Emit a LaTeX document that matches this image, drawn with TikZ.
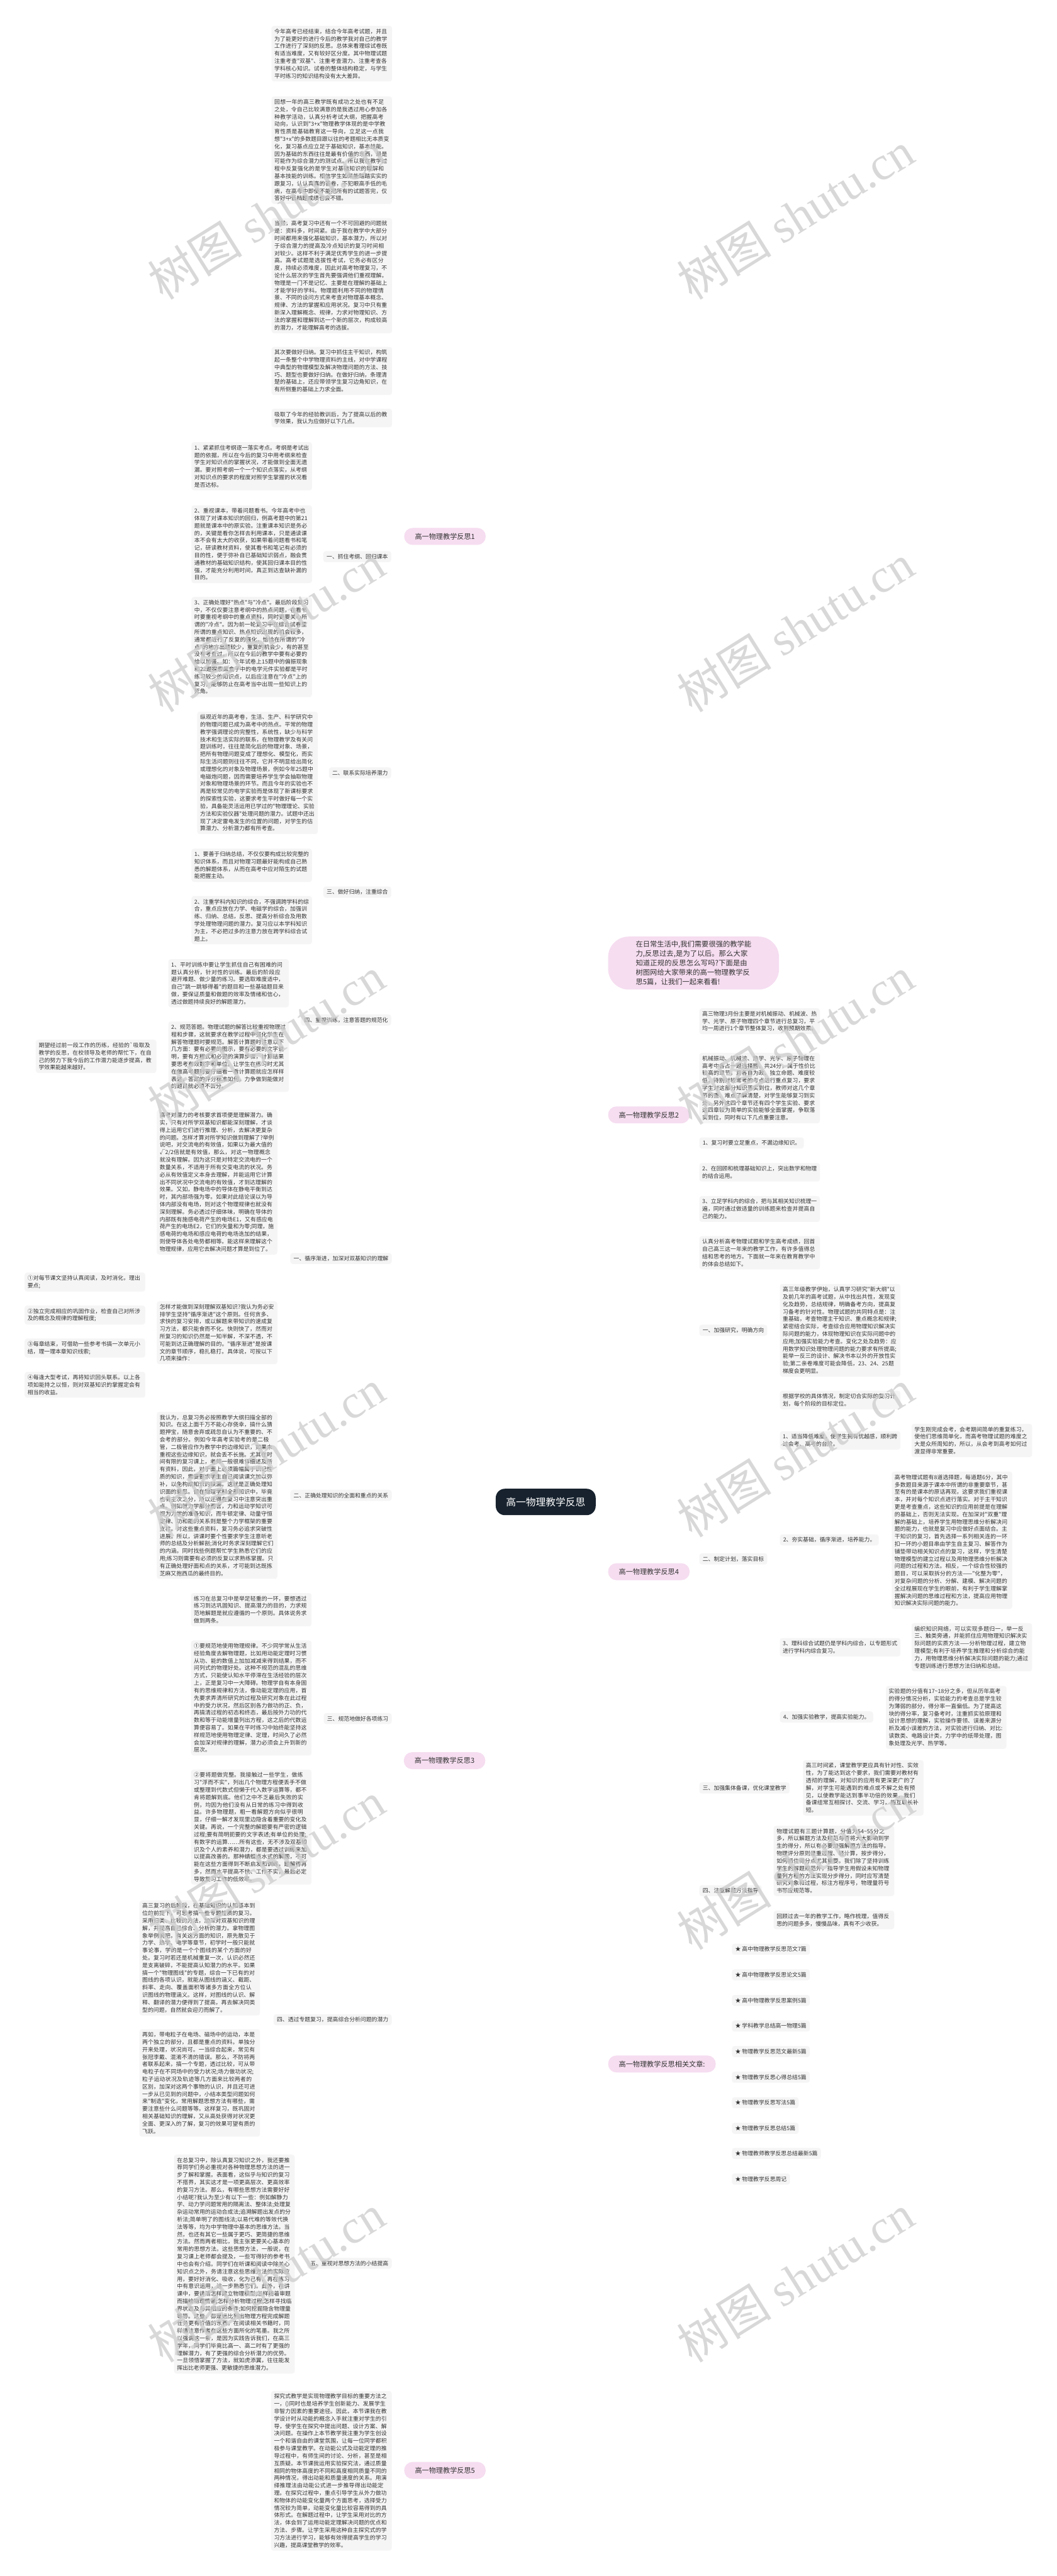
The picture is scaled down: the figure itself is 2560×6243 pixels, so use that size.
\documentclass[tikz,border=0pt]{standalone}
\usepackage{fontspec}
\newfontfamily\cjk{Noto Sans CJK SC}
\newfontfamily\wmfont{Liberation Serif}
\XeTeXlinebreaklocale "zh"
\XeTeXlinebreakskip = 0pt plus 1pt
\usetikzlibrary{backgrounds}
\definecolor{lineC}{HTML}{1E2934}
\definecolor{rootC}{HTML}{17222E}
\definecolor{pinkC}{HTML}{F6DDF0}
\definecolor{boxC}{HTML}{F5F5F5}
\definecolor{txtC}{HTML}{333333}
\begin{document}
\begin{tikzpicture}[x=1pt,y=-1pt,
  blk/.style={fill=boxC, rounded corners=6pt, text=txtC, font=\cjk\fontsize{13.5}{18}\selectfont, inner xsep=7pt, inner ysep=7pt, align=left, text width=278pt},
  lbl/.style={fill=boxC, rounded corners=6pt, text=txtC, font=\cjk\fontsize{13.5}{18}\selectfont, inner xsep=8pt, inner ysep=7pt},
  brn/.style={fill=pinkC, rounded corners=20pt, text=txtC, font=\cjk\fontsize{17}{22}\selectfont, inner xsep=26pt, inner ysep=11pt, minimum height=41pt},
  intro/.style={fill=pinkC, rounded corners=50pt, text=txtC, font=\cjk\fontsize{17.2}{23}\selectfont, inner xsep=67pt, inner ysep=10pt, align=left, text width=280pt},
  rootn/.style={fill=rootC, rounded corners=22pt, text=white, font=\cjk\fontsize{24}{28}\selectfont, inner xsep=25pt, minimum height=64pt},
  conn/.style={draw=lineC, line width=2pt, rounded corners=7pt},
  rconn/.style={draw=lineC, line width=3pt},
  wm/.style={text=black!20, opacity=0.75, rotate=32, font=\fontsize{115}{115}\selectfont}
]
\useasboundingbox (0,0) rectangle (2560,6243);
\fill[white] (0,0) rectangle (2560,6243);

% root
\node[rootn] (root) at (1322,3640) {高一物理教学反思};

% ===== branch 1 =====
\node[brn,anchor=west] (b1) at (979,1300) {高一物理教学反思1};
\node[blk,anchor=east] (a1) at (950,130) {今年高考已经结束，结合今年高考试题，并且为了能更好的进行今后的教学我对自己的教学工作进行了深刻的反思。总体来看理综试卷既有适当难度，又有较好区分度。其中物理试题注重考查"双基"、注重考查潜力、注重考查各学科核心知识。试卷的整体结构稳定，与学生平时练习的知识结构没有太大差异。};
\node[blk,anchor=east] (a2) at (950,364) {回想一年的高三教学既有成功之处也有不足之处，令自己比较满意的是我透过用心参加各种教学活动，认真分析考试大纲，把握高考动向，认识到"3+x"物理教学体现的是中学教育性质是基础教育这一导向，立足这一点我想"3+x"的多数题目跟以往的考题相比无本质变化，复习基点应立足于基础知识，基本技能。因为基础的东西往往是最有价值的东西，最是可能作为综合潜力的测试点。所以我在教学过程中反复强化的是学生对基础知识的理解和基本技能的训练。相信学生如果能踏踏实实的跟复习，认认真真的答卷，不犯眼高手低的毛病，在高考中即使不能把所有的试题答完，仅答好中低档题成绩也会不错。};
\node[blk,anchor=east] (a3) at (950,668) {当然，高考复习中还有一个不可回避的问题就是：资料多，时间紧。由于我在教学中大部分时间都用来强化基础知识，基本潜力，所以对于综合潜力的提高及冷点知识的复习时间相对较少。这样不利于满足优秀学生的进一步提高。高考试题是选拔性考试，它务必有区分度，持续必须难度，因此对高考物理复习，不论什么层次的学生首先要强调他们重视理解。物理是一门不是记忆、主要是在理解的基础上才能学好的学科。物理题利用不同的物理情景、不同的设问方式来考查对物理基本概念、规律、方法的掌握和应用状况。复习中只有重新深入理解概念、规律，力求对物理知识、方法的掌握和理解到达一个新的层次，构成较高的潜力，才能理解高考的选拔。};
\node[blk,anchor=east] (a4) at (950,899) {其次要做好归纳。复习中抓住主干知识，构筑起一条整个中学物理资料的主线，对中学课程中典型的物理模型及解决物理问题的方法、技巧、题型也要做好归纳。在做好归纳，条理清楚的基础上，还应带领学生复习边角知识，在有所侧重的基础上力求全面。};
\node[blk,anchor=east] (a5) at (950,1013) {吸取了今年的经验教训后，为了提高以后的教学效果，我认为应做好以下几点。};
\node[lbl,anchor=east] (a6) at (948,1349) {一、抓住考纲、回归课本};
\node[blk,anchor=east] (a61) at (756,1130) {1、紧紧抓住考纲逐一落实考点。考纲是考试出题的依据，所以在今后的复习中用考纲来检查学生对知识点的掌握状况，才能做到全面无遗漏。要对照考纲一个一个知识点落实，从考纲对知识点的要求的程度对照学生掌握的状况看是否达标。};
\node[blk,anchor=east] (a62) at (756,1319) {2、重视课本，带着问题看书。今年高考中也体现了对课本知识的回归，例高考题中的第21题就是课本中的原实验。注重课本知识是务必的，关键是看你怎样去利用课本，只是通读课本不会有太大的收获，如果带着问题看书和笔记，研读教材资料，使其看书和笔记有必须的目的性，便于弥补自已基础知识弱点，融会贯通教材的基础知识结构，使其回归课本目的性强，才能充分利用时间，真正到达查缺补漏的目的。};
\node[blk,anchor=east] (a63) at (756,1568) {3、正确处理好"热点"与"冷点"。最后阶段复习中，不仅仅要注意考纲中的热点问题，在看书时要重视考纲中的重点资料，同时更要关心所谓的"冷点"。因为前一轮复习中在综合试卷里所谓的重点知识、热点知识出现的机会较多，通常都进行了反复的强化，恰恰在所谓的"冷点"的地方出题较少，重复的机会少，有的甚至没有考查过，所以在今后的教学中要有必要的给以加强。如：今年试卷上15题中的偏振现象和22题探索黑盒子中的电学元件实验都是平时练习较少的知识点，以后应注意在"冷点"上的复习，能够防止在高考当中出现一些知识上的死角。};
\node[lbl,anchor=east] (a7) at (948,1873) {二、联系实际培养潜力};
\node[blk,anchor=east] (a71) at (770,1873) {纵观近年的高考卷，生活、生产、科学研究中的物理问题已成为高考中的热点。平常的物理教学强调理论的完整性，系统性，缺少与科学技术和生活实际的联系，在物理教学及有关问题训练时，往往是简化后的物理对象、场景，把所有物理问题变成了理想化、模型化，而实际生活问题则往往不同，它并不明显给出简化或理想化的对象及物理场景，例如今年25题中电磁炮问题，因而需要培养学生学会抽取物理对象和物理场景的环节。而且今年的实验也不再是较常见的电学实验而是体现了新课标要求的探索性实验，这要求考生平时做好每一个实验，具备能灵活运用已学过的"物理理论、实验方法和实验仪器"处理问题的潜力。试题中还出现了决定雷电发生的位置的问题，对学生的估算潜力、分析潜力都有所考查。};
\node[lbl,anchor=east] (a8) at (948,2162) {三、做好归纳，注重综合};
\node[blk,anchor=east] (a81) at (756,2097) {1、要善于归纳总结，不仅仅要构成比较完整的知识体系，而且对物理习题最好能构成自己熟悉的解题体系，从而在高考中应对陌生的试题能把握主动。};
\node[blk,anchor=east] (a82) at (756,2230) {2、注重学科内知识的综合，不强调跨学科的综合，重点应放在力学、电磁学的综合，加强训练、归纳、总结，反思、提高分析综合及用数学处理物理问题的潜力。复习应以本学科知识为主，不必把过多的注意力放在跨学科综合试题上。};
\node[lbl,anchor=east] (a9) at (948,2472) {四、重视训练，注意答题的规范化};
\node[blk,anchor=east] (a91) at (700,2383) {1、平时训练中要让学生抓住自己有困难的问题认真分析，针对性的训练。最后的阶段应避开难题、做少量的练习。要选取难度适中，自己"跳一跳够得着"的题目和一些基础题目来做，要保证质量和做题的效率及情绪和信心，透过做题持续良好的解题潜力。};
\node[blk,anchor=east] (a92) at (700,2561) {2、规范答题。物理试题的解答比较重视物理过程和步骤，这就要求在教学过程中强化学生在解答物理题时要规范。解答计算题时注意以下几方面：要有必要的图示，要有必要的文字说明，要有方程式和必要的演算步骤，计算结果要思考有效数字和单位。让学生在练习时尤其在做高考题时要仔细看一看计算题就应怎样样表述，答案的评分标准如何，力争做到能做对的题目就必须不丢分。};
\node[blk,anchor=east] (a921) at (379,2560) {期望经过前一段工作的历练，经验的`吸取及教学的反思，在校领导及老师的帮忙下，在自己的努力下我今后的工作潜力能逐步提高，教学效果能越来越好。};

% ===== intro + branch 2 =====
\node[intro,anchor=west] (intro) at (1473,2334) {在日常生活中,我们需要很强的教学能力,反思过去,是为了以后。那么大家知道正规的反思怎么写吗?下面是由树图网给大家带来的高一物理教学反思5篇，让我们一起来看看!};
\node[brn,anchor=west] (b2) at (1473,2702) {高一物理教学反思2};
\node[blk,anchor=west] (e1) at (1694,2475) {高三物理3月份主要是对机械振动、机械波、热学、光学、原子物理四个章节进行总复习，平均一周进行1个章节整体复习，收到预期效果。};
\node[blk,anchor=west] (e2) at (1694,2637) {机械振动、机械波、热学、光学、原子物理在高考中各占一题选择题，共24分，属于性价比较高的章节，且各自为政、独立命题、难度较低，特别对较常考的考点进行重点复习，要求学生对这部分知识落实到位，教师对这几个章节的重、难点了解清楚，对学生能够复习到实处，另外这四个章节还有四个学生实验、要求这四章较为简单的实验能够全面掌握，争取落实到位，同时有以下几点重要注意。};
\node[lbl,anchor=west] (e3) at (1694,2770) {1、复习时要立足重点，不漏边缘知识。};
\node[blk,anchor=west] (e4) at (1694,2841) {2、在回顾和梳理基础知识上，突出数学和物理的结合运用。};
\node[blk,anchor=west] (e5) at (1694,2930) {3、立足学科内的综合，把与其相关知识梳理一遍，同时通过做适量的训练题来检查并提高自己的能力。};

% ===== branch 4 =====
\node[brn,anchor=west] (b4) at (1473,3809) {高一物理教学反思4};
\node[blk,anchor=west] (f1) at (1694,3036) {认真分析高考物理试题和学生高考成绩，回首自己高三这一年来的教学工作，有许多值得总结和思考的地方。下面就一年来在教育教学中的体会总结如下。};
\node[lbl,anchor=west] (f2) at (1694,3224) {一、加强研究，明确方向};
\node[blk,anchor=west] (f21) at (1889,3224) {高三年级教学伊始，认真学习研究"新大纲"以及前几年的高考试题，从中找出共性，发现变化及趋势，总结规律，明确备考方向，提高复习备考的针对性。物理试题的共同特点是：注重基础，考查物理主干知识、重点概念和规律;紧密结合实际，考查综合应用物理知识解决实际问题的能力，体现物理知识在实际问题中的应用;加强实验能力考查。变化之处及趋势：应用数学知识处理物理问题的能力要求有所提高;能举一反三的设计、解决书本以外的开放性实验;第二亲卷难度可能会降低，23、24、25题梯度会更明显。};
\node[lbl,anchor=west] (f3) at (1694,3778) {二、制定计划，落实目标};
\node[blk,anchor=west] (f31) at (1889,3393) {根据学校的具体情况，制定切合实际的复习计划，每个阶段的目标定位。};
\node[blk,anchor=west] (f32) at (1889,3491) {1、适当降低难度，使学生拥有优越感，顺利跨过会考、高考的台阶。};
\node[blk,anchor=west] (f321) at (2208,3491) {学生刚完成会考，会考期间简单的重复练习，使他们思维简单化，而高考物理试题的难度之大是众所周知的，所以，从会考到高考如何过渡显得非常重要。};
\node[lbl,anchor=west] (f33) at (1889,3732) {2、夯实基础，循序渐进，培养能力。};
\node[blk,anchor=west] (f331) at (2160,3733) {高考物理试题有8道选择题，每道题6分，其中多数题目来源于课本中所谓的非重要章节，甚至有的是课本的原话再现，这要求我们重视课本，并对每个知识点进行落实。对于主干知识更是考查重点，这些知识的应用前提是在理解的基础上，否则无法实现。在加深对"双重"理解的基础上，培养学生用物理思维分析解决问题的能力，也就是复习中应做好点面结合。主干知识的复习，首先选择一系列相关连的一环扣一环的小题目串由学生自主复习、解答作为铺垫带动相关知识点的复习，这样，学生清楚物理模型的建立过程以及用物理思维分析解决问题的过程和方法。相反，一个综合性较强的题目，可以采取拆分的方法——"化整为零"，对复杂问题的分析、分解、建模、解决问题的全过程展现在学生的眼前，有利于学生理解掌握解决问题的思维过程和方法，提高应用物理知识解决实际问题的能力。};
\node[blk,anchor=west] (f34) at (1889,3992) {3、理科综合试题仍是学科内综合，以专题形式进行学科内综合复习。};
\node[blk,anchor=west] (f341) at (2208,3992) {编织知识网络，可以实现多题归一，举一反三、触类旁通，并能抓住应用物理知识解决实际问题的实质方法——分析物理过程，建立物理模型;有利于培养学生推理和分析综合的能力，用物理思维分析解决实际问题的能力;通过专题训练进行思想方法归纳和总结。};
\node[lbl,anchor=west] (f35) at (1889,4161) {4、加强实验教学，提高实验能力。};
\node[blk,anchor=west] (f351) at (2146,4162) {实验题的分值有17{\textasciitilde}18分之多，但从历年高考的得分情况分析，实验能力的考查总是学生较为薄弱的部分，得分率一直偏低。为了提高这块的得分率，复习备考时，注重抓实验原理和设计思想的理解，实验操作要领、误差来源分析及减小误差的方法，对实验进行归纳、对比:读数类、电路设计类，力学中的纸带处理，图象处理及光学、热学等。};
\node[lbl,anchor=west] (f4) at (1694,4333) {三、加强集体备课，优化课堂教学};
\node[blk,anchor=west] (f41) at (1945,4333) {高三时间紧，课堂教学更应具有针对性、实效性，为了能达到这个要求，我们需要对教材有透彻的理解，对知识的应用有更深更广的了解，对学生可能遇到的难点或不解之处有预见，以使教学能达到事半功倍的效果，我们备课组常互相探讨、交流、学习，相互取长补短。};
\node[lbl,anchor=west] (f5) at (1694,4582) {四、注重解题方法指导};
\node[blk,anchor=west] (f51) at (1874,4510) {物理试题有三题计算题，分值为54{\textasciitilde}55分之多，所以解题方法及规范与否将大大影响到学生的得分，所以有必要加强解题方法的指导。物理评分原则是重过程、轻计算，按步得分，如何抓住得分点尤其重要。我们除了坚持训练学生的解题规范外，指导学生用假设未知物理量列方程的方法实现分步得分，同时应写清楚研究对象和过程，标注方程序号，物理量符号书写应规范等。};
\node[blk,anchor=west] (f52) at (1874,4653) {回顾过去一年的教学工作，略作梳理，值得反思的问题多多，慢慢品味，真有不少收获。};

% ===== related articles =====
\node[brn,anchor=west] (rel) at (1473,5002) {高一物理教学反思相关文章:};
\node[lbl,anchor=west] (r1) at (1773,4724) {★ 高中物理教学反思范文7篇};
\node[lbl,anchor=west] (r2) at (1773,4786) {★ 高中物理教学反思论文5篇};
\node[lbl,anchor=west] (r3) at (1773,4848) {★ 高中物理教学反思案例5篇};
\node[lbl,anchor=west] (r4) at (1773,4910) {★ 学科教学总结高一物理5篇};
\node[lbl,anchor=west] (r5) at (1773,4972) {★ 物理教学反思范文最新5篇};
\node[lbl,anchor=west] (r6) at (1773,5034) {★ 物理教学反思心得总结5篇};
\node[lbl,anchor=west] (r7) at (1773,5096) {★ 物理教学反思写法5篇};
\node[lbl,anchor=west] (r8) at (1773,5158) {★ 物理教学反思总结5篇};
\node[lbl,anchor=west] (r9) at (1773,5219) {★ 物理教师教学反思总结最新5篇};
\node[lbl,anchor=west] (r10) at (1773,5281) {★ 物理教学反思周记};

% ===== branch 3 =====
\node[brn,anchor=west] (b3) at (978,4267) {高一物理教学反思3};
\node[lbl,anchor=east] (c1) at (949,3050) {一、循序渐进，加深对双基知识的理解};
\node[blk,anchor=east] (c11) at (672,2865) {高考对潜力的考核要求首项便是理解潜力。确实，只有对所学双基知识都能深刻理解，才谈得上运用它们进行推理、分析，去解决更复杂的问题。怎样才算对所学知识做到理解了?举例说吧，对交流电的有效值，如果以为最大值的√2/2倍就是有效值，那么，对这一物理概念就没有理解。因为这只是对特定交流电的一个数量关系，不适用于所有交变电流的状况。务必从有效值定义本身去理解，并能运用它计算出不同状况中交流电的有效值，才到达理解的效果。又如，静电场中的导体在静电平衡到达时，其内部场强为零。如果对此结论误以为导体内部没有电场，则对这个物理规律也就没有深刻理解。务必透过仔细体味，明确在导体的内部既有施感电荷产生的电场E1，又有感应电荷产生的电场E2，它们的矢量和为零;同理，施感电荷的电场和感应电荷的电场迭加的结果，则使导体各处电势都相等。能这样来理解这个物理规律，应用它去解决问题才算是到位了。};
\node[blk,anchor=east] (c12) at (672,3230) {怎样才能做到深刻理解双基知识?我认为务必安排学生坚持"循序渐进"这个原则。任何贪多、求快的复习安排，或以解题来带知识的速成复习方法，都只能食而不化。快则快了，然而对所复习的知识仍然是一知半解，不深不透，不可能到达正确理解的目的。"循序渐进"是按课文的章节顺序，稳扎稳打。具体说，可按以下几项来操作：};
\node[blk,anchor=east] (c121) at (352,3107) {①对每节课文坚持认真阅读，及时消化，理出要点;};
\node[blk,anchor=east] (c122) at (352,3187) {②独立完成相应的巩固作业，检查自己对所涉及的概念及规律的理解程度;};
\node[blk,anchor=east] (c123) at (352,3267) {③每章结束，可借助一些参考书搞一次单元小结，理一理本章知识线索;};
\node[blk,anchor=east] (c124) at (352,3356) {④每逢大型考试，再将知识回头联系。以上各项如能持之以恒，则对双基知识的掌握定会有相当的收益。};
\node[lbl,anchor=east] (c2) at (949,3624) {二、正确处理知识的全面和重点的关系};
\node[blk,anchor=east] (c21) at (672,3624) {我认为，总复习务必按照教学大纲扫描全部的知识。在这上面千万不能心存侥幸，搞什么猜题押宝，随意舍弃或疏忽自认为不重要的、不会考的部分。例如今年高考实验考的是二极管，二极管应作为教学中的边缘知识，如果未重视这些边缘知识，就会丢不长施。尤其在时间有限的复习课上，老师一般很难详细述及所有资料，因此，对于面上必须篇幅属于识记性质的知识，需要要求学生自己阅读课文加以弥补，以免构成知识的缺漏。这就是正确处理知识面的意思。但在物理学科全部知识中，毕竟也有主次之分，所以还得在复习中注意突出重点。例如就力学部分而言，力和运动学知识可视为力学的准备知识，而牛顿定律、动量守恒定律、功和能的关系则是整个力学框架的重要支柱。对这些重点资料，复习务必追求突破性进展。所以，讲课时要个性要求学生注意听老师的总结及分析解剖;消化时务求深刻理解它们的内涵。同时找些例题帮忙学生熟悉它们的应用;练习则需要有必须的反复以求熟练掌握。只有正确处理好面和点的关系，才可能到达既拣芝麻又抱西瓜的最终目的。};
\node[lbl,anchor=east] (c3) at (949,4165) {三、规范地做好各项练习};
\node[blk,anchor=east] (c31) at (755,3901) {练习在总复习中是举足轻重的一环，要想透过练习到达巩固知识、提高潜力的目的，力求规范地解题是就应遵循的一个原则。具体说务求做到两条。};
\node[blk,anchor=east] (c32) at (755,4115) {①要规范地使用物理规律。不少同学常从生活经验角度去解物理题，比如用动能定理时习惯从功、能的数值上加加减减来得到结果，而不问列式的物理好处。这种不规范的混乱的思维方式，只能使认知水平停滞在生活经验的层次上，正是复习中一大障碍。物理学自有本身固有的思维规律和方法，像动能定理的应用，首先要求弄清所研究的过程及研究对象在此过程中的受力状况，然后区别各力做功的正、负，再搞清过程的初态和终态，最后按外力功的代数和等于动能增量列出方程，这之后的代数运算便容易了。如果在平时练习中始终能坚持这样规范地使用物理定律、定理，时间久了必然会加深对规律的理解，潜力必须会上升到新的层次。};
\node[blk,anchor=east] (c33) at (755,4428) {②要将题做完整。我接触过一些学生，做练习"浮而不实"，列出几个物理方程便丢手不做或整理到代数式但懒于代入数字运算等，都不肯将题解到底。他们之中不乏最后失败的实例，均因为他们没有从日常的练习中得到收益。许多物理题，粗一看解题方向似乎很明显，仔细一解才发现里边隐含着重要的变化及关键。再说，一个完整的解题要有严密的逻辑过程;要有简明扼要的文字表述;有单位的处理;有数字的运算……所有这些，无不涉及双基知识及个人的素养和潜力，都是要透过训练来加以提高改善的。那种蜻蜓点水式的解题，不可能在这些方面得到不断启发和训练，题解得再多，然而水平提高不快、工作不实，最后必定导致复习工作的低效率。};
\node[lbl,anchor=east] (c4) at (949,4895) {四、透过专题复习，提高综合分析问题的潜力};
\node[blk,anchor=east] (c41) at (630,4745) {高三复习的后阶段，在基础知识的认知基本到位的前提下，可思考搞一些专题性质的复习。采用归类、比较的方法，加深对双基知识的理解，并提高自己综合、分析的潜力。拿物理图象举例说吧，有关这方面的知识，原先散见于力学、热学、电学等章节，初学时一般只能就事论事，学的是一个个图线的某个方面的好处。复习时若还是机械重复一次，认识必然还是支离破碎，不能提高认知潜力的水平。如果搞一个"物理图线"的专题，综合一下已有的对图线的各项认识，就能从图线的涵义、截距、斜率、走向、覆盖面积等诸多方面全方位认识图线的物理涵义。这样，对图线的认识、解释、翻译的潜力便得到了提高，再去解决同类型的问题，自然就会迎刃而解了。};
\node[blk,anchor=east] (c42) at (630,5048) {再如，带电粒子在电场、磁场中的运动，本是两个独立的部分，且都是重点的资料。单独分开来处理，状况尚可。一当综合起来，常见有张冠李戴、混淆不清的错误。那么，不防将两者联系起来，搞一个专题，透过比较，可从带电粒子在不同场中的受力状况;场力做功状况;粒子运动状况及轨迹等几方面来比较两者的区别，加深对这两个事物的认识，并且还可进一步从已见到的问题中，小结本类型问题如何来"制造"变化，常用解题思想方法有哪些，需要注意些什么问题等等。这样复习，既巩固对相关基础知识的理解，又从高处获得对状况更全面、更深入的了解，复习的效果可望有质的飞跃。};
\node[lbl,anchor=east] (c5) at (949,5485) {五、重视对思想方法的小结提高};
\node[blk,anchor=east] (c51) at (714,5487) {在总复习中，除认真复习知识之外，我还要推荐同学们务必重视对各种物理思想方法的进一步了解和掌握。表面看，这似乎与知识的复习不搭界，其实这才是一项更高层次、更高效率的复习方法。那么，有哪些思想方法需要好好小结呢?我认为至少有以下一些：例如解静力学、动力学问题常用的隔离法、整体法;处理复杂运动常用的运动合成法;追溯解题出发点的分析法;简单明了的图线法;以易代难的等效代换法等等，均为中学物理中基本的思维方法。当然，也还有其它一些属于更巧、更简捷的思维方法。然而两者相比，我主张更要关心基本的常用的思想方法。这些思想方法，一般说，在复习课上老师都会提及，一些写得好的参考书中也会有介绍。同学们在听课和阅读中除关心知识点之外，务请注意这些思维方法的实际应用，要好好消化、吸收，化为己有，再在练习中有意识运用，进一步熟悉它们。此外，在讲课中，要讲清怎样建立物理模型;怎样随着审题而描绘物理情景;怎样分析物理过程;怎样寻找临界状态及与其相应的条件;如何挖掘隐含物理量等等。这些，都是远比列出物理方程完成解题任务更有价值的东西。在阅读相关书籍时，同样请注意作者在这些方面所化的笔墨。我之所以强调这一条，是因为实践告诉我们，在高三学年，同学们毕竟比高一、高二时有了更强的理解潜力，有了更强的综合分析潜力的优势。一旦领悟掌握了方法，就如虎添翼，往往能发挥出比老师更强、更敏捷的思维潜力。};

% ===== branch 5 =====
\node[brn,anchor=west] (b5) at (979,5987) {高一物理教学反思5};
\node[blk,anchor=east] (d1) at (949,5988) {探究式教学是实现物理教学目标的重要方法之一，()同时也是培养学生创新能力、发展学生非智力因素的重要途径。因此，本节课我在教学设计时从动能的概念入手就注重对学生的引导，使学生在探究中提出问题、设计方案、解决问题。在操作上本节教学我注重为学生创设一个和谐自由的课堂氛围，让每一位同学都积极参与课堂教学。在动能公式及动能定理的推导过程中，有师生间的讨论、分析，甚至是相互质疑。本节课我运用实验探究法，通过质量相同的物体高度的不同和高度相同质量不同的两种情况，得出动能和质量速度的关系。用演绎推理法由动能公式进一步推导得出动能定理。在探究过程中，重点引导学生从外力做功和物体的动能变化量两个方面思考，选择受力情况较为简单，动能变化量比较容易得到的具体形式。在解题过程中，让学生采用对比的方法，体会到了运用动能定理解决问题的优点和方法、步骤。让学生采用这种自主探究式的学习方法进行学习，能够有效得提高学生的学习兴趣，提高课堂教学的效率。};

% ===== connectors =====
\begin{pgfonlayer}{background}
\draw[rconn] (root.center) .. controls (1322,2470) and (1278,1300) .. (b1.east);
\draw[rconn] (root.center) .. controls (1322,2987) and (1367,2334) .. (intro.west);
\draw[rconn] (root.center) .. controls (1322,3171) and (1367,2702) .. (b2.west);
\draw[rconn] (root.center) .. controls (1322,3725) and (1367,3809) .. (b4.west);
\draw[rconn] (root.center) .. controls (1322,3953) and (1278,4267) .. (b3.east);
\draw[rconn] (root.center) .. controls (1322,4321) and (1367,5002) .. (rel.west);
\draw[rconn] (root.center) .. controls (1322,4813) and (1278,5987) .. (b5.east);

\foreach \p/\c in {b2/e1,b2/e2,b2/e3,b2/e4,b2/e5,
  b4/f1,b4/f2,b4/f3,b4/f4,b4/f5,f2/f21,
  f3/f31,f3/f32,f3/f33,f3/f34,f3/f35,
  f32/f321,f33/f331,f34/f341,f35/f351,f4/f41,f5/f51,f5/f52,
  rel/r1,rel/r2,rel/r3,rel/r4,rel/r5,rel/r6,rel/r7,rel/r8,rel/r9,rel/r10}
  \draw[conn] (\p.east) -- ++(14,0) |- (\c.west);

\foreach \p/\c in {b1/a1,b1/a2,b1/a3,b1/a4,b1/a5,b1/a6,b1/a7,b1/a8,b1/a9,
  a6/a61,a6/a62,a6/a63,a7/a71,a8/a81,a8/a82,a9/a91,a9/a92,a92/a921,
  b3/c1,b3/c2,b3/c3,b3/c4,b3/c5,c1/c11,c1/c12,
  c12/c121,c12/c122,c12/c123,c12/c124,c2/c21,c3/c31,c3/c32,c3/c33,
  c4/c41,c4/c42,c5/c51,b5/d1}
  \draw[conn] (\p.west) -- ++(-14,0) |- (\c.east);
\end{pgfonlayer}

% ===== watermarks =====
\foreach \yy in {522,1522,2522,3522,4522,5522} {
  \node[wm] (wl\yy) at (645,\yy) {\cjk 树图 \wmfont shutu.cn};
  \node[wm] (wr\yy) at (1927,\yy) {\cjk 树图 \wmfont shutu.cn};
}
\end{tikzpicture}
\end{document}
